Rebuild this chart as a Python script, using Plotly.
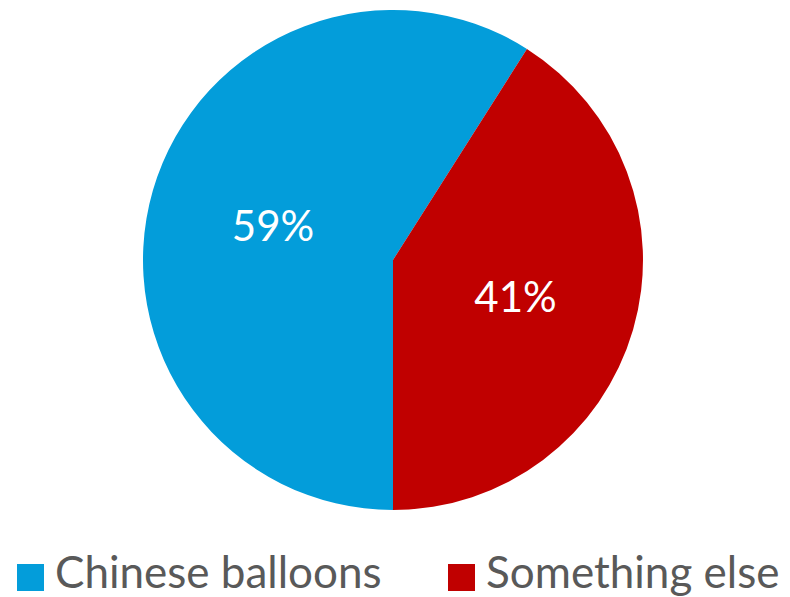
import plotly.graph_objects as go

labels = ["Chinese balloons", "Something else"]
values = [59, 41]
colors = ["#039DDA", "#C00000"]

# page body adds an 8px offset, so the figure is sized to fit the window
W, H = 782, 589

fig = go.Figure(go.Pie(
    labels=labels,
    values=values,
    marker=dict(colors=colors, line=dict(width=0)),
    sort=False,
    direction="clockwise",
    rotation=180,
    textinfo="percent",
    texttemplate="%{percent:.0%}",
    textposition="inside",
    insidetextorientation="horizontal",
    textfont=dict(family="Lato, sans-serif", size=42, color="white"),
    domain=dict(x=[0.17263, 0.81202], y=[0.14771, 0.99660]),
    hoverinfo="label+percent",
    showlegend=False,
))

# custom legend (larger squares as in reference)
sq_x = [9, 440]
txt_x = [46, 477]
sq_y0, sq_y1 = 556, 583
txt_y = 563
for i, lab in enumerate(labels):
    fig.add_shape(
        type="rect", xref="paper", yref="paper",
        x0=sq_x[i] / W, x1=(sq_x[i] + 27) / W,
        y0=(H - sq_y1) / H, y1=(H - sq_y0) / H,
        fillcolor=colors[i], line=dict(width=0),
    )
    fig.add_annotation(
        x=txt_x[i] / W, y=(H - txt_y) / H, xref="paper", yref="paper",
        xanchor="left", yanchor="middle", showarrow=False,
        text=lab, borderpad=0,
        font=dict(family="Lato, sans-serif", size=44, color="#595959"),
    )

fig.update_layout(
    width=W, height=H,
    margin=dict(l=0, r=0, t=0, b=0),
    paper_bgcolor="white",
    plot_bgcolor="white",
    showlegend=False,
)

fig.write_html("out.html")
